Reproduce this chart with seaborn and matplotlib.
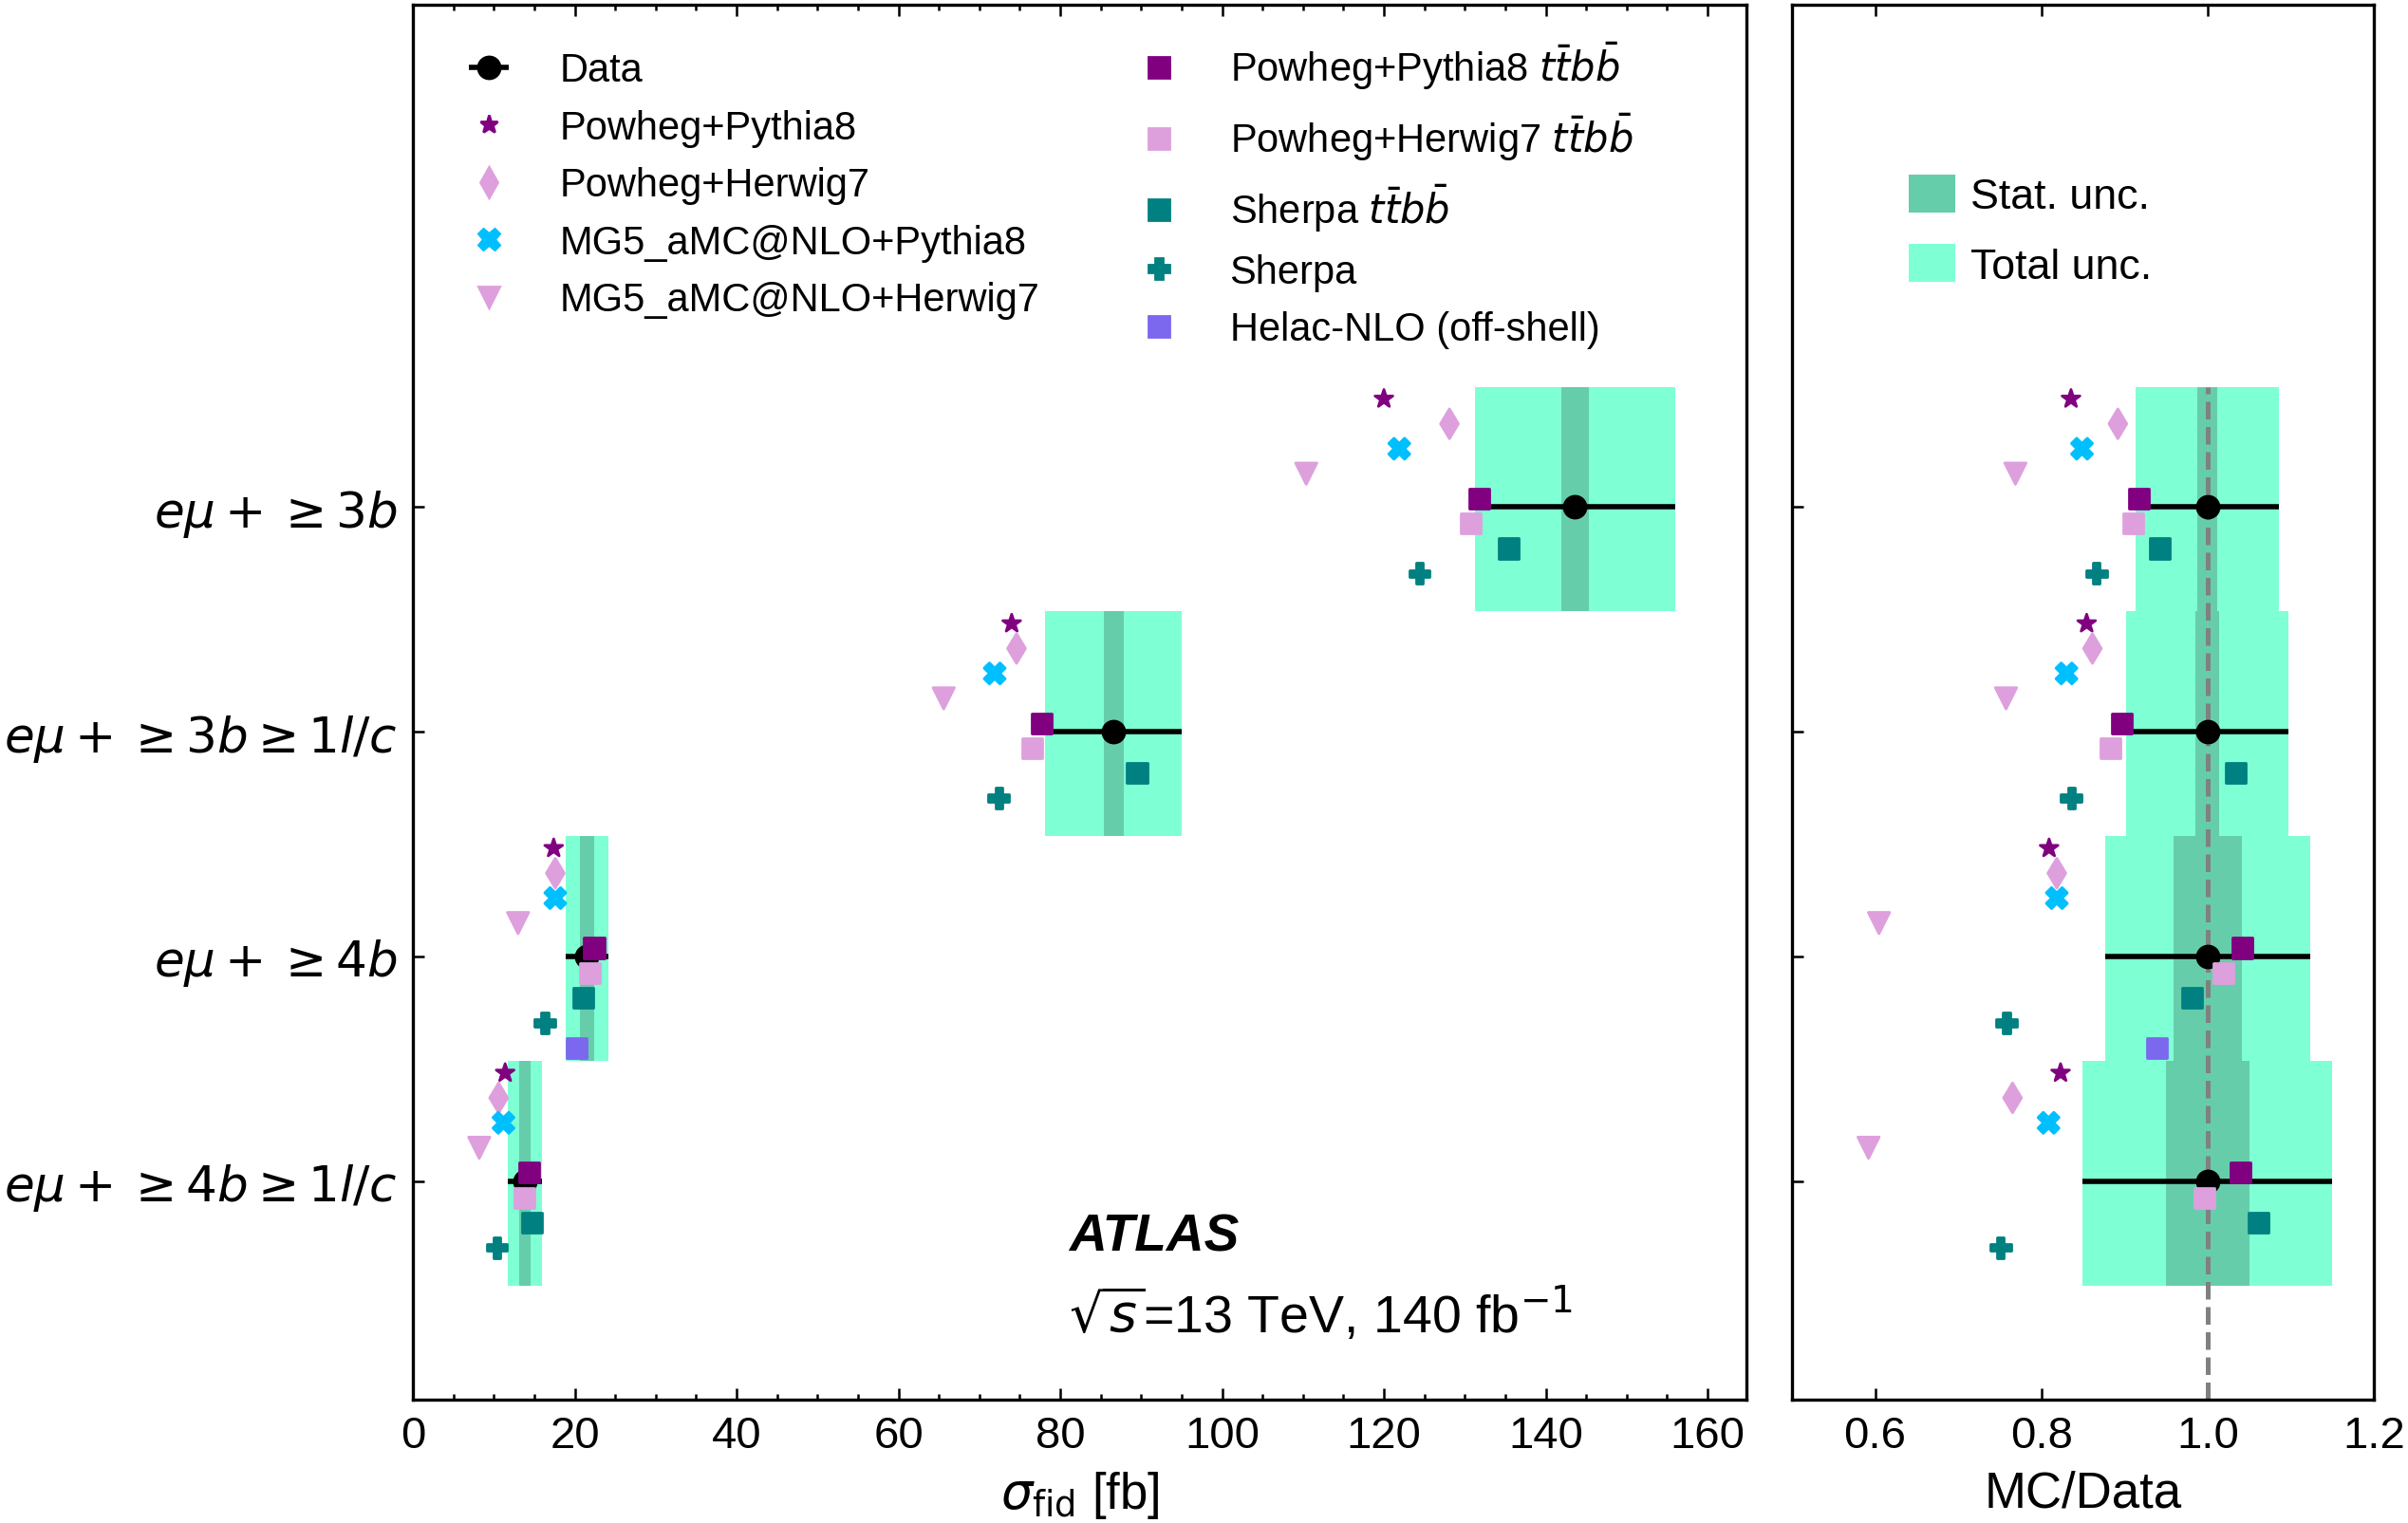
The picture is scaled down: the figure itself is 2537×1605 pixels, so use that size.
import matplotlib
matplotlib.use("Agg")
import matplotlib.pyplot as plt
from matplotlib.lines import Line2D
from matplotlib.patches import Patch
from matplotlib.ticker import MultipleLocator
import numpy as np
import pandas as pd
import seaborn as sns

# ---------------------------------------------------------------------------
# Values
# ---------------------------------------------------------------------------

CATEGORIES = [
    r"$e\mu+\geq3b$",
    r"$e\mu+\geq3b\geq1l/c$",
    r"$e\mu+\geq4b$",
    r"$e\mu+\geq4b\geq1l/c$",
]
DATA_XS = [143.6, 86.6, 21.5, 13.85]
TOTAL_UNC = [12.4, 8.45, 2.66, 2.08]
STAT_UNC = [1.72, 1.25, 0.89, 0.70]

POWHEG_PYTHIA8 = [120.0, 74.0, 17.4, 11.4]
POWHEG_HERWIG7 = [128.1, 74.6, 17.6, 10.6]
MG5_PYTHIA8 = [121.9, 71.9, 17.6, 11.2]
MG5_HERWIG7 = [110.4, 65.6, 13.0, 8.2]
POWHEG_PYTHIA8_TTBB = [131.8, 77.7, 22.4, 14.4]
POWHEG_HERWIG7_TTBB = [130.7, 76.5, 21.9, 13.8]
SHERPA_TTBB = [135.4, 89.5, 21.1, 14.7]
SHERPA = [124.4, 72.4, 16.3, 10.4]
HELAC_NLO = [np.nan, np.nan, 20.2, np.nan]

MODEL_NAMES = [
    "Powheg+Pythia8",
    "Powheg+Herwig7",
    "MG5_aMC@NLO+Pythia8",
    "MG5_aMC@NLO+Herwig7",
    r"Powheg+Pythia8 $t\bar{t}b\bar{b}$",
    r"Powheg+Herwig7 $t\bar{t}b\bar{b}$",
    r"Sherpa $t\bar{t}b\bar{b}$",
    "Sherpa",
    "Helac-NLO (off-shell)",
]
MODEL_VALUES = [
    POWHEG_PYTHIA8, POWHEG_HERWIG7, MG5_PYTHIA8, MG5_HERWIG7,
    POWHEG_PYTHIA8_TTBB, POWHEG_HERWIG7_TTBB, SHERPA_TTBB, SHERPA, HELAC_NLO,
]
MODEL_COLORS = [
    "purple", "plum", "deepskyblue", "plum",
    "purple", "plum", "teal", "teal", "mediumslateblue",
]
MODEL_MARKERS = ["*", "d", "X", "v", "s", "s", "s", "P", "s"]
MODEL_MSIZE = [7.1, 8.0, 8.0, 8.1, 7.6, 7.6, 7.6, 7.8, 7.6]
MARKER_EDGE = 1.0

STAT_COLOR = "mediumaquamarine"
TOTAL_COLOR = "aquamarine"

# ---------------------------------------------------------------------------
# Layout
# ---------------------------------------------------------------------------

W, H, DPI = 2537, 1606, 200
CAT_Y = np.arange(len(CATEGORIES))[::-1] + 1.0
OFFSETS = np.linspace(0.481, -0.407, len(MODEL_NAMES))
BOX_SHIFT = 0.035
YLIM = (0.027, 6.235)

sns.set_style("ticks")
plt.rcParams.update({
    "font.family": ["Liberation Sans", "DejaVu Sans"],
    "mathtext.fontset": "dejavusans",
    "text.color": "black",
    "axes.labelcolor": "black",
    "axes.edgecolor": "black",
    "axes.linewidth": 1.2,
    "xtick.color": "black",
    "ytick.color": "black",
    "xtick.direction": "in",
    "ytick.direction": "in",
    "xtick.top": True,
    "xtick.major.size": 4.2,
    "xtick.minor.size": 2.2,
    "ytick.major.size": 4.2,
    "xtick.major.width": 0.9,
    "xtick.minor.width": 0.9,
    "ytick.major.width": 0.9,
    "xtick.major.pad": 5.6,
    "ytick.major.pad": 6.0,
})

# long table for seaborn
rows = []
for k, (name, vals) in enumerate(zip(MODEL_NAMES, MODEL_VALUES)):
    for i, v in enumerate(vals):
        if np.isnan(v):
            continue
        rows.append({
            "model": name,
            "sigma": v,
            "ratio": v / DATA_XS[i],
            "ypos": CAT_Y[i] + OFFSETS[k],
        })
df = pd.DataFrame(rows)

palette = dict(zip(MODEL_NAMES, MODEL_COLORS))
markers = dict(zip(MODEL_NAMES, MODEL_MARKERS))
sizes = {n: m ** 2 for n, m in zip(MODEL_NAMES, MODEL_MSIZE)}

data = np.array(DATA_XS)
tot = np.array(TOTAL_UNC)
stat = np.array(STAT_UNC)


def draw_models(ax, xcol):
    sns.scatterplot(data=df, x=xcol, y="ypos", hue="model", style="model",
                    size="model", hue_order=MODEL_NAMES, style_order=MODEL_NAMES,
                    size_order=MODEL_NAMES, palette=palette, markers=markers,
                    sizes=sizes, edgecolor="face", linewidth=MARKER_EDGE,
                    legend=False, ax=ax, zorder=4)


fig = plt.figure(figsize=(W / DPI, H / DPI), dpi=DPI)
ax1 = fig.add_axes([435 / W, 1 - 1476 / H, 1405 / W, 1470 / H])
ax2 = fig.add_axes([1888 / W, 1 - 1476 / H, 613 / W, 1470 / H])

# --- left: cross-sections -------------------------------------------------
ax1.barh(CAT_Y + BOX_SHIFT, 2 * tot, left=data - tot, height=1.0,
         color=TOTAL_COLOR, lw=0, zorder=1)
ax1.barh(CAT_Y + BOX_SHIFT, 2 * stat, left=data - stat, height=1.0,
         color=STAT_COLOR, lw=0, zorder=1.1)
data_eb = ax1.errorbar(DATA_XS, CAT_Y, xerr=tot, fmt="o", color="black",
                       ms=8.3, elinewidth=2.0, capsize=0, zorder=3)
draw_models(ax1, "sigma")

ax1.set_xlim(0, 164.8)
ax1.set_ylim(*YLIM)
ax1.xaxis.set_minor_locator(MultipleLocator(5))
ax1.set_yticks(CAT_Y)
ax1.set_yticklabels(CATEGORIES, fontsize=18.6)
ax1.tick_params(axis="x", labelsize=17)
ax1.set_xlabel(r"$\sigma_{\rm fid}$ [fb]", fontsize=19, labelpad=5)
ax1.set_ylabel("")

ax1.text(0.492, 0.107, "ATLAS", transform=ax1.transAxes, fontsize=19.8,
         fontweight="bold", fontstyle="italic", va="baseline")
ax1.text(0.492, 0.049, r"$\sqrt{s}$=13 TeV, 140 fb$^{-1}$",
         transform=ax1.transAxes, fontsize=20.0, va="baseline")

handles = [data_eb]
for name, c, m, ms in zip(MODEL_NAMES, MODEL_COLORS, MODEL_MARKERS, MODEL_MSIZE):
    handles.append(Line2D([], [], ls="none", marker=m, color=c, ms=ms,
                          markeredgewidth=MARKER_EDGE, label=name))
labels = ["Data"] + MODEL_NAMES
ax1.legend(handles, labels, loc="upper left",
           bbox_to_anchor=(38 / 1405, 1 - 37 / 1470),
           ncol=2, frameon=False, fontsize=15, labelspacing=0.49,
           handletextpad=0.8, columnspacing=2.0, borderpad=0, borderaxespad=0)

# --- right: ratio ----------------------------------------------------------
ax2.barh(CAT_Y + BOX_SHIFT, 2 * tot / data, left=1 - tot / data, height=1.0,
         color=TOTAL_COLOR, lw=0, zorder=1)
ax2.barh(CAT_Y + BOX_SHIFT, 2 * stat / data, left=1 - stat / data, height=1.0,
         color=STAT_COLOR, lw=0, zorder=1.1)
top_frac = (CAT_Y[0] + BOX_SHIFT + 0.5 - YLIM[0]) / (YLIM[1] - YLIM[0])
ax2.axvline(1.0, ymax=top_frac, color="gray", ls="--", lw=1.8, zorder=2)
ax2.errorbar(np.ones_like(data), CAT_Y, xerr=tot / data, fmt="o", color="black",
             ms=8.3, elinewidth=2.0, capsize=0, zorder=3)
draw_models(ax2, "ratio")

ax2.set_xlim(0.5, 1.2)
ax2.set_ylim(*YLIM)
ax2.set_xticks([0.6, 0.8, 1.0, 1.2])
ax2.set_yticks(CAT_Y)
ax2.set_yticklabels([])
ax2.tick_params(axis="x", labelsize=17)
ax2.set_xlabel("MC/Data", fontsize=19, labelpad=5)
ax2.set_ylabel("")

unc_handles = [Patch(facecolor=STAT_COLOR, lw=0, label="Stat. unc."),
               Patch(facecolor=TOTAL_COLOR, lw=0, label="Total unc.")]
ax2.legend(handles=unc_handles, loc="upper left", bbox_to_anchor=(0.2, 0.878),
           frameon=False, fontsize=16.1, handlelength=1.11, handleheight=0.98,
           handletextpad=0.36, labelspacing=0.65, borderpad=0, borderaxespad=0)

fig.savefig("out.png", dpi=DPI)
